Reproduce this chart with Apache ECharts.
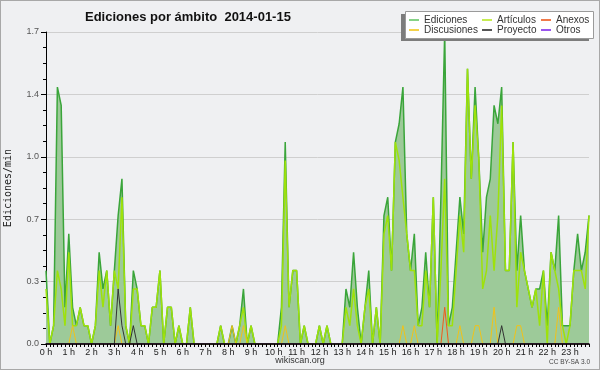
<!DOCTYPE html>
<html><head><meta charset="utf-8">
<script src="https://cdn.jsdelivr.net/npm/echarts@6/dist/echarts.min.js"></script>
<style>html,body{margin:0;padding:0;background:#fff}#c{width:598px;height:368px;border:1px solid #a8a8a8;background:#eff0f2}</style>
</head><body><div id="c"></div>
<script>
// 10-minute slots, 0 h .. 23 h 50
const hours = ['0','1','2','3','4','5','6','7','8','9','10','11','12','13','14','15','16','17','18','19','20','21','22','23'];
const minutes = ['00','10','20','30','40','50'];

const ediciones = [
0.4,0,0.1,1.4,1.3,0.2,0.6,0.2,0.1,0.2,0.1,0.1,
0,0.1,0.5,0.3,0.4,0.1,0.4,0.7,0.9,0.1,0,0.4,
0.3,0.1,0.1,0,0.2,0.2,0.4,0,0.2,0.2,0,0.1,
0,0,0.2,0,0,0,0,0,0,0,0.1,0,
0,0.1,0,0.1,0.3,0,0.1,0,0,0,0,0,
0,0,0.2,1.1,0.2,0.4,0.4,0,0.1,0,0,0,
0.1,0,0.1,0,0,0,0,0.3,0.2,0.5,0.2,0,
0.2,0.4,0,0.2,0,0.7,0.8,0.4,1.1,1.2,1.4,0.6,
0.4,0.6,0.1,0.2,0.5,0.2,0.8,0,0.8,1.7,0.1,0.2,
0.5,0.8,0.6,1.5,0.9,1.4,1.0,0.5,0.8,0.9,1.3,1.2,
1.4,0.4,0.4,1.1,0.4,0.7,0.4,0.3,0.2,0.3,0.3,0.4,
0.1,0.5,0.4,0.7,0.1,0.1,0.1,0.4,0.6,0.4,0.5,0.7];

const articulos = [
0.3,0,0.1,0.4,0.3,0.1,0.5,0.1,0.1,0.2,0.1,0.1,
0,0.1,0.4,0.2,0.4,0.1,0.4,0.3,0.8,0.1,0,0.3,
0.3,0.1,0.1,0,0.2,0.2,0.4,0,0.2,0.2,0,0.1,
0,0,0.2,0,0,0,0,0,0,0,0.1,0,
0,0,0,0.1,0.2,0,0.1,0,0,0,0,0,
0,0,0.1,1.0,0.2,0.4,0.4,0,0.1,0,0,0,
0.1,0,0.1,0,0,0,0,0.2,0.1,0.3,0.1,0,
0.2,0.3,0,0.2,0,0.6,0.7,0.4,1.1,1.0,0.8,0.6,
0.4,0.4,0.1,0.1,0.4,0.2,0.8,0,0.4,0.9,0.1,0.1,
0.4,0.7,0.5,1.5,0.9,1.3,1.0,0.3,0.4,0.7,0.4,0.7,
1.3,0.4,0.4,1.1,0.2,0.5,0.4,0.3,0.2,0.3,0.1,0.4,
0,0.5,0.4,0.3,0.1,0,0.1,0.4,0.4,0.4,0.3,0.7];

const anexos = [
0,0,0,0,0,0,0,0,0,0,0,0,
0,0,0,0,0,0,0,0,0,0,0,0,
0,0,0,0,0,0,0,0,0,0,0,0,
0,0,0,0,0,0,0,0,0,0,0,0,
0,0,0,0,0,0,0,0,0,0,0,0,
0,0,0,0,0,0,0,0,0,0,0,0,
0,0,0,0,0,0,0,0,0,0,0,0,
0,0,0,0,0,0,0,0,0,0,0,0,
0,0,0,0,0,0,0,0,0,0.2,0,0,
0,0,0,0,0,0,0,0,0,0,0,0,
0,0,0,0,0,0,0,0,0,0,0,0,
0,0,0,0,0,0,0,0,0,0,0,0];

const discusiones = [
0,0,0,0,0,0,0,0.1,0,0,0,0,
0,0,0,0,0,0,0,0.1,0,0,0,0,
0,0,0,0,0,0,0,0,0,0,0,0,
0,0,0,0,0,0,0,0,0,0,0,0,
0,0.1,0,0,0.1,0,0,0,0,0,0,0,
0,0,0,0.1,0,0,0,0,0,0,0,0,
0,0,0,0,0,0,0,0,0,0,0,0,
0,0,0,0,0,0,0,0,0,0,0.1,0,
0,0.1,0,0,0,0,0,0,0,0,0,0,
0,0.1,0,0,0,0.1,0.1,0,0,0,0.2,0,
0,0,0,0,0.1,0.1,0,0,0,0,0,0,
0,0,0,0.2,0,0,0,0,0,0,0,0];

const proyecto = [
0,0,0,0,0,0,0,0,0,0,0,0,
0,0,0,0,0,0,0,0.3,0.1,0,0,0.1,
0,0,0,0,0,0,0,0,0,0,0,0,
0,0,0,0,0,0,0,0,0,0,0,0,
0,0,0,0,0,0,0,0,0,0,0,0,
0,0,0,0,0,0,0,0,0,0,0,0,
0,0,0,0,0,0,0,0,0,0,0,0,
0,0,0,0,0,0,0,0,0,0,0,0,
0,0,0,0,0,0,0,0,0,0,0,0,
0,0,0,0,0,0,0,0,0,0,0,0,
0.1,0,0,0,0,0,0,0,0,0,0,0,
0,0,0,0,0,0,0,0,0,0,0,0];

const otros = [
0,0,0,0,0,0,0,0,0,0,0,0,
0,0,0,0,0,0,0,0,0,0,0,0,
0,0,0,0,0,0,0,0,0,0,0,0,
0,0,0,0,0,0,0,0,0,0,0,0,
0,0,0,0,0,0,0,0,0,0,0,0,
0,0,0,0,0,0,0,0,0,0,0,0,
0,0,0,0,0,0,0,0,0,0,0,0,
0,0,0,0,0,0,0,0,0,0,0,0,
0,0,0,0,0,0,0,0,0,0,0,0,
0,0,0,0,0,0,0,0,0,0,0,0,
0,0,0,0,0,0,0,0,0,0,0,0,
0,0,0,0,0,0,0,0,0,0,0,0];

const categories = [];
hours.forEach(h => minutes.forEach(m => categories.push(h + ':' + m)));

const FONT = '"Liberation Sans", Arial, sans-serif';
const chart = echarts.init(document.getElementById('c'), null, {renderer: 'canvas'});

function lineSeries(name, data, color, width, extra) {
  return Object.assign({
    name, type: 'line', data, symbol: 'none', showSymbol: false, yAxisIndex: 0,
    lineStyle: {color, width}, itemStyle: {color}, emphasis: {disabled: true}
  }, extra || {});
}

function legendCol(left, names, colors) {
  return {
    left, top: 14, orient: 'vertical', itemGap: 0, itemWidth: 10, itemHeight: 2,
    icon: 'rect', padding: 0, z: 20, selectedMode: false,
    itemStyle: {borderWidth: 0},
    textStyle: {fontFamily: FONT, fontSize: 10, color: '#333', lineHeight: 10, padding: [0,0,0,0]},
    data: names.map((n, k) => ({name: n, itemStyle: {color: colors[k]}}))
  };
}

chart.setOption({
  animation: false,
  backgroundColor: '#eff0f2',
  title: {
    text: 'Ediciones por ámbito  2014-01-15', left: 79, top: 5,
    textStyle: {fontFamily: FONT, fontSize: 13, fontWeight: 'bold', color: '#111'}
  },
  legend: [
    legendCol(408, ['Ediciones', 'Discusiones'], ['#86d286', '#f4d24a']),
    legendCol(481, ['Artículos', 'Proyecto'], ['#c6ec52', '#555555']),
    legendCol(540, ['Anexos', 'Otros'], ['#f07a4a', '#9a55ee'])
  ],
  grid: {left: 45, right: 10, top: 31, bottom: 25, containLabel: false, outerBoundsMode: 'none'},
  xAxis: {
    type: 'category', data: categories, boundaryGap: false, z: 10,
    axisLine: {show: true, lineStyle: {color: '#000', width: 1.5}},
    axisTick: {show: true, interval: 0, length: 3, lineStyle: {color: '#000'}},
    axisLabel: {interval: 5, fontFamily: FONT, fontSize: 9, color: '#222', margin: 4,
      alignMinLabel: 'center', alignMaxLabel: 'center',
      formatter: v => v.split(':')[0] + ' h'},
    splitLine: {show: false}
  },
  yAxis: [{
    type: 'value', min: 0, max: 1.7, interval: 0.34,
    name: 'Ediciones/min', nameLocation: 'middle', nameGap: 33,
    nameTextStyle: {fontFamily: '"DejaVu Sans Mono", monospace', fontSize: 10, color: '#222'},
    axisLine: {show: true, lineStyle: {color: '#000', width: 1}},
    axisTick: {show: true, length: 5, lineStyle: {color: '#000'}},
    axisLabel: {fontFamily: FONT, fontSize: 9, color: '#555', margin: 7,
      formatter: v => v.toFixed(1)},
    splitLine: {show: true, lineStyle: {color: '#cfcfcf', width: 1}}
  }, {
    type: 'value', min: 0, max: 1.7, interval: 0.085, position: 'left', offset: 0,
    axisLine: {show: false},
    axisTick: {show: true, length: 3, lineStyle: {color: '#000'}},
    axisLabel: {show: false},
    splitLine: {show: false}
  }],
  series: [
    lineSeries('Ediciones', ediciones, '#3aa53a', 1.5, {areaStyle: {color: '#9dca99', opacity: 1}}),
    lineSeries('Artículos', articulos, '#9ee20a', 1.5),
    lineSeries('Anexos', anexos, '#f05a1a', 1),
    lineSeries('Discusiones', discusiones, '#f0c21a', 1),
    lineSeries('Proyecto', proyecto, '#333333', 1),
    lineSeries('Otros', otros, '#9040e0', 1)
  ],
  graphic: [
    {type: 'rect', z: 15, shape: {x: 400, y: 13, width: 188, height: 27}, style: {fill: '#7c7c7c'}},
    {type: 'rect', z: 16, shape: {x: 404.5, y: 10.5, width: 188, height: 27}, style: {fill: '#ffffff', stroke: '#9a9a9a', lineWidth: 1}},
    {type: 'text', z: 16, x: 299, y: 360, style: {text: 'wikiscan.org', fontFamily: FONT, fontSize: 9, fill: '#333', align: 'center', verticalAlign: 'middle'}},
    {type: 'text', z: 16, x: 589, y: 361, style: {text: 'CC BY-SA 3.0', fontFamily: FONT, fontSize: 6.5, fill: '#444', align: 'right', verticalAlign: 'middle'}}
  ]
});
</script></body></html>
